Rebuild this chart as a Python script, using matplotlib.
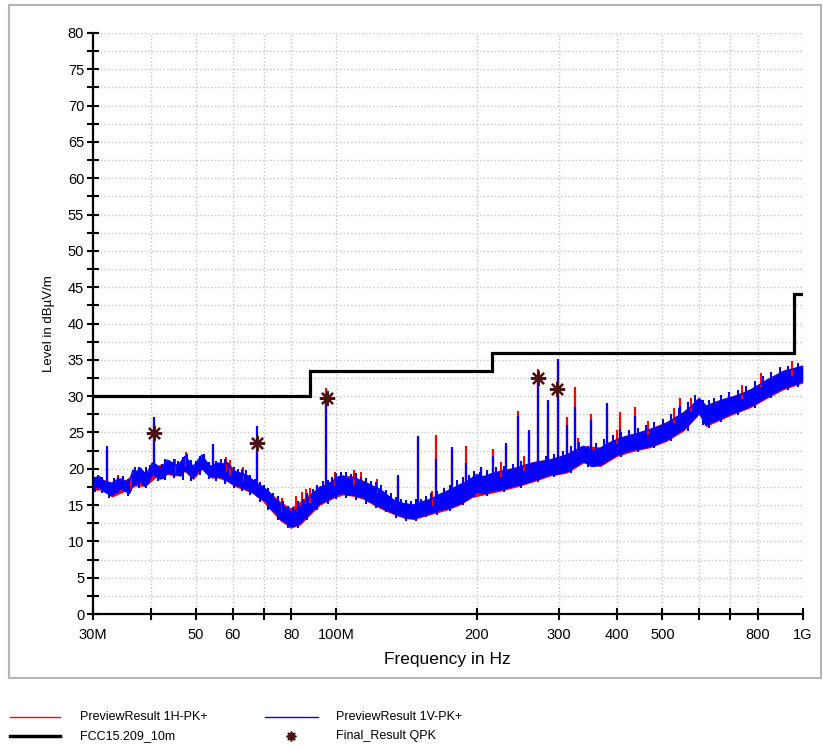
import numpy as np
import matplotlib
matplotlib.use("Agg")
import matplotlib.pyplot as plt
from matplotlib.lines import Line2D
from matplotlib.patches import Rectangle

plt.rcParams['font.family'] = ['Liberation Sans', 'DejaVu Sans']

# --- data (MHz / dBuV/m) ---
blue_f = [30.0, 30.5, 31.1, 31.7, 32.3, 33.0, 33.7, 34.5, 35.3, 36.0, 36.6, 37.3, 38.0, 38.8,
          39.5, 40.3, 41.0, 41.8, 42.6, 43.4, 44.3, 45.3, 46.3, 47.3, 48.3, 49.3, 50.4, 51.5,
          52.6, 53.7, 54.8, 55.9, 57.1, 58.4, 59.6, 60.8, 62.1, 63.4, 64.7, 66.1, 67.7, 69.3,
          70.8, 72.2, 74.0, 75.9, 77.8, 79.8, 81.8, 83.8, 85.7, 87.7, 90.0, 92.3, 95.1, 97.0,
          99.0, 101.0, 103.5, 106.0, 108.8, 111.5, 114.3, 117.0, 120.1, 123.0, 126.2, 129.4,
          132.6, 136.0, 139.4, 143.0, 146.4, 150.0, 153.8, 157.6, 161.5, 167.0, 172.6, 178.0,
          184.0, 190.5, 195.0, 200.0, 206.7, 215.0, 224.5, 234.0, 243.8, 254.0, 264.7, 276.0,
          287.4, 299.0, 312.0, 325.0, 338.8, 353.0, 368.0, 383.0, 399.7, 416.0, 433.5, 452.0,
          470.9, 491.0, 511.5, 533.0, 555.3, 578.0, 600.0, 620.0, 637.0, 655.0, 682.0, 710.6,
          741.0, 771.7, 805.0, 838.3, 874.0, 909.9, 950.0, 1000.0]
blue_hi = [18.4, 18.8, 18.9, 18.3, 18.2, 18.0, 18.4, 18.6, 18.3, 18.2, 19.8, 19.6, 20.1, 19.4,
           19.7, 20.8, 20.6, 20.1, 20.3, 21.2, 20.9, 20.5, 20.8, 21.7, 21.1, 20.3, 21.1, 21.9,
           21.0, 20.3, 20.6, 20.8, 20.6, 20.8, 20.0, 19.6, 19.4, 19.2, 19.0, 18.4, 17.8, 17.6,
           17.1, 16.6, 15.7, 15.2, 14.6, 14.1, 14.3, 14.9, 15.5, 16.1, 16.8, 17.5, 17.6, 18.0,
           18.5, 18.9, 19.0, 18.6, 18.8, 18.4, 18.2, 17.9, 17.5, 17.3, 16.8, 16.2,
           15.7, 15.4, 15.2, 15.1, 15.0, 15.3, 15.5, 15.7, 16.0, 16.5, 16.9, 17.3,
           17.8, 18.2, 18.7, 19.2, 18.9, 19.3, 19.6, 19.8, 20.1, 20.5, 20.8, 21.0,
           21.2, 21.5, 21.9, 22.5, 23.1, 22.4, 22.8, 23.5, 24.0, 24.4, 24.7, 25.0,
           25.4, 25.8, 26.3, 27.0, 27.7, 28.6, 29.7, 28.6, 28.9, 29.2, 29.6, 29.9,
           30.3, 30.8, 31.5, 32.2, 32.8, 33.4, 33.7, 34.1]
blue_lo = [17.2, 17.5, 17.5, 16.9, 16.6, 16.3, 16.8, 17.3, 16.9, 16.6, 17.7, 17.9, 18.3, 17.6,
           18.0, 19.2, 19.0, 18.6, 18.7, 19.4, 19.3, 19.2, 19.0, 19.8, 19.3, 18.7, 19.6, 20.1,
           19.4, 18.9, 19.0, 18.9, 18.7, 18.4, 18.0, 17.7, 17.6, 17.3, 17.1, 16.8, 16.2, 15.8,
           15.5, 14.5, 14.0, 13.0, 12.6, 12.0, 12.2, 12.5, 13.2, 13.8, 14.6, 15.2, 15.6, 15.9,
           16.2, 16.5, 16.6, 16.4, 16.4, 16.2, 16.0, 15.6, 15.2, 14.9, 14.5, 14.2,
           13.9, 13.6, 13.4, 13.2, 13.2, 13.3, 13.6, 13.8, 14.0, 14.3, 14.5, 14.8,
           15.2, 15.7, 16.2, 16.8, 16.6, 16.9, 17.1, 17.4, 17.7, 18.0, 18.4, 18.8,
           19.2, 19.3, 19.6, 20.3, 21.0, 20.3, 20.5, 21.2, 21.9, 22.3, 22.6, 22.8,
           23.1, 23.5, 24.0, 24.7, 25.4, 26.5, 27.7, 26.0, 26.4, 26.7, 27.2, 27.7,
           28.1, 28.6, 29.2, 29.9, 30.5, 31.1, 31.5, 32.0]

red_f = [30.0, 31.5, 33.0, 35.0, 37.0, 39.0, 41.0, 43.4, 45.3, 47.3, 49.3, 51.5, 54.0, 56.0,
         58.4, 60.8, 63.4, 66.1, 69.3, 72.2, 75.9, 79.8, 83.8, 87.7, 92.3, 99.0, 103.5, 108.8,
         114.3, 120.1, 126.2, 132.6, 139.4, 146.4, 153.8, 161.5, 172.6, 184.0, 195.0, 206.7,
         224.5, 243.8, 264.7, 287.4, 312.0, 338.8, 368.0, 399.7, 433.5, 470.9, 511.5, 555.3,
         600.0, 620.0, 655.0, 710.6, 771.7, 838.3, 909.9, 1000.0]
red_hi = [18.3, 18.6, 18.0, 18.3, 19.5, 19.4, 20.4, 21.0, 20.5, 21.8, 20.2, 21.7, 20.3, 20.8,
          21.0, 19.7, 19.4, 18.6, 17.6, 16.7, 15.5, 14.6, 15.6, 16.6, 17.6, 18.6, 19.1, 19.0,
          18.4, 17.7, 16.9, 15.8, 15.3, 15.1, 15.5, 16.1, 17.0, 17.9, 18.8, 19.0,
          19.8, 20.3, 21.0, 21.4, 22.1, 23.2, 23.0, 24.2, 24.9, 25.6, 26.5, 27.9,
          29.8, 28.8, 29.4, 30.1, 31.0, 32.4, 33.6, 34.3]
red_lo = [17.0, 17.1, 16.1, 16.8, 17.6, 17.6, 18.8, 19.2, 19.0, 19.6, 18.5, 19.9, 18.7, 18.7,
          18.2, 17.5, 17.1, 16.6, 15.6, 14.3, 12.8, 11.8, 12.3, 13.6, 15.0, 16.0, 16.4, 16.2,
          15.8, 15.0, 14.3, 13.7, 13.2, 13.0, 13.4, 13.8, 14.3, 15.0, 16.0, 16.4,
          16.9, 17.5, 18.2, 19.0, 19.4, 20.8, 20.3, 21.7, 22.4, 22.9, 23.8, 25.2,
          27.5, 25.8, 26.5, 27.5, 28.4, 29.7, 30.9, 31.8]

# narrowband spikes
spike_f = [32.3, 40.7, 54.3, 67.7, 95.1, 135.9, 149.6, 163.4, 177.0, 189.8, 204.0, 217.2,
           231.3, 244.6, 258.6, 270.4, 284.2, 298.5, 312.0, 325.0, 351.9, 381.0, 405.6,
           436.7, 544.3]
spike_blue = [23.2, 27.1, 23.4, 25.9, 29.3, 19.2, 24.5, 21.3, 23.0, 20.8, 20.3, 21.7, 23.6,
              27.2, 25.4, 32.2, 29.5, 35.1, 26.0, 28.5, 26.7, 29.1, 25.5, 27.3, 28.6]
spike_red = [22.4, 26.2, 22.8, 24.3, 31.1, 18.8, 24.2, 24.6, 22.6, 23.2, 20.0, 22.7, 23.2,
             27.9, 25.0, 33.7, 29.0, 35.0, 27.1, 31.3, 27.5, 28.7, 27.8, 28.5, 29.7]
spike_base = [17.0, 19.0, 19.5, 16.5, 16.5, 14.0, 14.0, 14.5, 15.5, 16.5, 17.5, 17.5, 18.0,
              18.5, 19.0, 19.5, 20.0, 20.0, 20.5, 21.0, 21.5, 22.0, 22.5, 23.5, 26.0]

# small noise peaks above the blue band
up_f = [30.8, 31.4, 33.3, 34.1, 34.9, 35.7, 37.0, 37.7, 39.1, 39.9, 42.2, 43.0, 44.8, 45.8,
        46.8, 47.8, 48.8, 49.9, 51.0, 52.1, 53.2, 55.3, 56.5, 57.8, 60.2, 61.4, 62.7, 64.0,
        65.4, 66.9, 68.5, 70.0, 71.5, 73.1, 75.0, 76.8, 78.8, 80.8, 82.8, 84.8, 86.7, 88.9,
        91.1, 93.6, 96.0, 98.0, 100.0, 102.2, 104.7, 107.4, 110.1, 112.9, 115.6, 118.5,
        121.5, 124.6, 127.8, 131.0, 134.3, 137.7, 141.2, 144.7, 148.2, 151.9, 155.7, 159.5,
        164.2, 169.8, 175.3, 181.0, 187.2, 192.7, 197.5, 203.3, 210.8, 219.7, 229.2, 238.9,
        248.9, 259.3, 270.3, 281.7, 293.2, 305.5, 318.5, 331.9, 345.9, 360.5, 375.5, 391.3,
        407.8, 424.7, 442.7, 461.4, 481.0, 501.2, 522.2, 544.1, 566.6, 589.0, 610.0, 628.5,
        646.0, 668.5, 696.3, 725.8, 756.3, 788.3, 821.6, 856.1, 892.0, 930.0, 975.0]
up_top = [19.1, 18.6, 18.7, 18.9, 19.0, 18.6, 20.2, 20.3, 20.2, 20.5, 20.7, 21.3, 21.3, 21.0,
          21.6, 22.0, 21.2, 21.0, 21.8, 22.0, 20.9, 21.1, 21.3, 21.4, 20.3, 19.9, 19.9, 19.8,
          19.2, 18.6, 18.2, 17.8, 17.4, 16.6, 16.2, 15.6, 14.9, 14.8, 15.5, 15.8, 16.6, 17.2,
          17.8, 18.3, 18.4, 18.9, 19.4, 19.6, 19.5, 19.3, 19.4, 18.9, 18.7, 18.3,
          18.2, 17.7, 17.1, 16.6, 16.1, 15.8, 15.7, 15.6, 15.8, 15.9, 16.2, 16.6,
          17.0, 17.3, 17.8, 18.4, 18.8, 19.2, 19.7, 19.5, 19.8, 20.2, 20.4, 20.7,
          21.1, 21.4, 21.5, 21.8, 22.0, 22.5, 23.1, 23.7, 23.2, 23.6, 24.1, 24.6,
          25.1, 25.4, 25.6, 26.0, 26.4, 26.9, 27.6, 28.4, 29.2, 30.2, 29.5, 29.4,
          29.8, 30.1, 30.5, 30.9, 31.4, 32.1, 32.8, 33.3, 34.0, 34.2, 34.6]

# small dips below the blue band
dn_f = [30.3, 31.4, 32.6, 34.1, 35.7, 37.7, 39.1, 41.4, 43.0, 44.8, 46.8, 48.8, 51.0, 53.2,
        55.3, 57.8, 60.2, 62.7, 65.4, 68.5, 71.5, 75.0, 78.8, 82.8, 86.7, 91.1, 96.0, 100.0,
        104.7, 110.1, 115.6, 121.5, 127.8, 134.3, 141.2, 148.2, 155.7, 164.2, 175.3, 187.2,
        197.5, 210.8, 229.2, 248.9, 270.3, 293.2, 318.5, 345.9, 375.5, 407.8, 442.7, 481.0,
        522.2, 566.6, 610.0, 628.5, 668.5, 725.8, 788.3, 856.1, 930.0, 975.0]
dn_bot = [16.8, 16.9, 16.0, 16.7, 16.2, 17.4, 17.4, 18.3, 18.4, 18.7, 18.5, 18.3, 19.2, 18.6,
          18.3, 17.9, 17.3, 16.9, 16.4, 15.4, 14.3, 13.0, 11.8, 11.9, 13.0, 14.3, 15.2, 15.8,
          16.0, 15.7, 15.2, 14.6, 14.0, 13.2, 12.8, 12.8, 13.3, 13.6, 14.2, 15.0,
          16.1, 16.3, 16.8, 17.3, 18.2, 18.8, 19.4, 20.2, 20.6, 21.6, 22.3, 22.9,
          23.8, 25.2, 26.0, 25.6, 26.5, 27.4, 28.4, 29.7, 30.9, 31.3]

# red tips that show above the blue
red_up_f = [34.0, 36.2, 45.0, 47.5, 58.0, 59.2, 63.0, 76.5, 82.0, 84.5, 86.0, 88.0, 99.5,
            109.0, 113.0, 122.0, 160.0, 190.0, 225.0, 252.0, 285.0, 330.0, 400.0, 465.0,
            530.0, 575.0, 740.0, 815.0, 950.0]
red_up_top = [19.2, 18.9, 21.4, 22.3, 21.6, 21.2, 20.2, 16.0, 16.2, 16.8, 17.2, 17.3, 19.6,
              19.8, 19.5, 18.6, 16.9, 19.3, 20.9, 21.7, 22.5, 24.3, 25.4, 26.6,
              28.3, 29.8, 31.6, 33.2, 34.8]

# FCC 15.209 10 m limit
limit_edges = [30, 88, 216, 960, 1000]
limit_vals = [30, 33.5, 36, 44]

# final QPK results
qpk_f = [40.6, 67.7, 95.4, 270.4, 297.5]
qpk_level = [24.9, 23.5, 29.7, 32.5, 31.0]

xtick_vals = [30, 40, 50, 60, 70, 80, 100, 200, 300, 400, 500, 600, 700, 800, 1000]
xtick_labels = ['30M', '', '50', '60', '', '80', '100M', '200', '300', '400', '500', '', '',
                '800', '1G']

# --- figure ---
W, H = 823, 749
fig = plt.figure(figsize=(W / 100, H / 100), dpi=100)
ax = fig.add_axes([92.5 / W, 1 - 614 / H, (802.7 - 92.5) / W, (614 - 33) / H])

ax.set_xscale('log')
ax.set_xlim(30, 1000)
ax.set_ylim(0, 80)

RED = '#ff0000'
BLUE = '#0000ff'

# red trace (1H) underneath
ax.fill_between(red_f, red_lo, red_hi, color=RED, lw=0)
ax.vlines(red_up_f, np.array(red_up_top) - 2.0, red_up_top, color=RED, lw=1.5)
ax.vlines(spike_f, spike_base, spike_red, color=RED, lw=1.6)

# blue trace (1V) on top
ax.fill_between(blue_f, blue_lo, blue_hi, color=BLUE, lw=0)
ax.plot(blue_f, blue_hi, color=BLUE, lw=1)
ax.plot(blue_f, blue_lo, color=BLUE, lw=1)
ax.vlines(up_f, np.array(up_top) - 2.0, up_top, color=BLUE, lw=1.5)
ax.vlines(dn_f, dn_bot, np.array(dn_bot) + 2.0, color=BLUE, lw=1.5)
ax.vlines(spike_f, spike_base, spike_blue, color=BLUE, lw=1.6)

# limit line
ax.stairs(limit_vals, limit_edges, baseline=None, color='black', lw=2.3)

# QPK markers
ax.plot(qpk_f, qpk_level, ls='none', marker=(8, 2, 0), ms=11, mew=1.6, color='#4a1212')

# axes styling
ax.set_xticks(xtick_vals)
ax.set_xticklabels(xtick_labels)
ax.xaxis.set_minor_locator(matplotlib.ticker.NullLocator())
ax.set_yticks(np.arange(0, 81, 5))
ax.set_yticks(np.arange(2.5, 80, 5), minor=True)
ax.tick_params(axis='both', which='both', direction='inout', length=8, width=1.5,
               labelsize=10.5, colors='black')
ax.tick_params(axis='x', pad=6)
ax.tick_params(axis='y', pad=2)
ax.grid(True, which='both', color='#c4c4c4', ls=':', lw=1)
ax.set_axisbelow(True)
for s in ['top', 'right']:
    ax.spines[s].set_visible(False)
for s in ['left', 'bottom']:
    ax.spines[s].set_linewidth(1.6)

ax.set_xlabel('Frequency in Hz', fontsize=12.5, labelpad=7)
ax.set_ylabel('Level in dBµV/m', fontsize=9.5, labelpad=9)

# light outer frame
fig.patches.append(Rectangle((9 / W, 1 - 678 / H), (821 - 9) / W, (678 - 5) / H,
                             transform=fig.transFigure, fill=False, ec='#b5b5b5', lw=1.5))

# legend below the frame
def fx(px):
    return px / W

def fy(py):
    return 1 - py / H

fig.add_artist(Line2D([fx(10), fx(60)], [fy(717), fy(717)], color=RED, lw=1))
fig.add_artist(Line2D([fx(265), fx(318)], [fy(717), fy(717)], color=BLUE, lw=1))
fig.add_artist(Line2D([fx(10), fx(60)], [fy(736), fy(736)], color='black', lw=2.5))
fig.add_artist(Line2D([fx(291)], [fy(736)], ls='none', marker=(8, 2, 0), ms=7, mew=1.3,
                      color='#4a1212'))
fig.text(fx(80), fy(717), 'PreviewResult 1H-PK+', fontsize=9, va='center')
fig.text(fx(336), fy(717), 'PreviewResult 1V-PK+', fontsize=9, va='center')
fig.text(fx(80), fy(736), 'FCC15.209_10m', fontsize=9, va='center')
fig.text(fx(336), fy(736), 'Final_Result QPK', fontsize=9, va='center')

fig.savefig('out.png', dpi=100)
